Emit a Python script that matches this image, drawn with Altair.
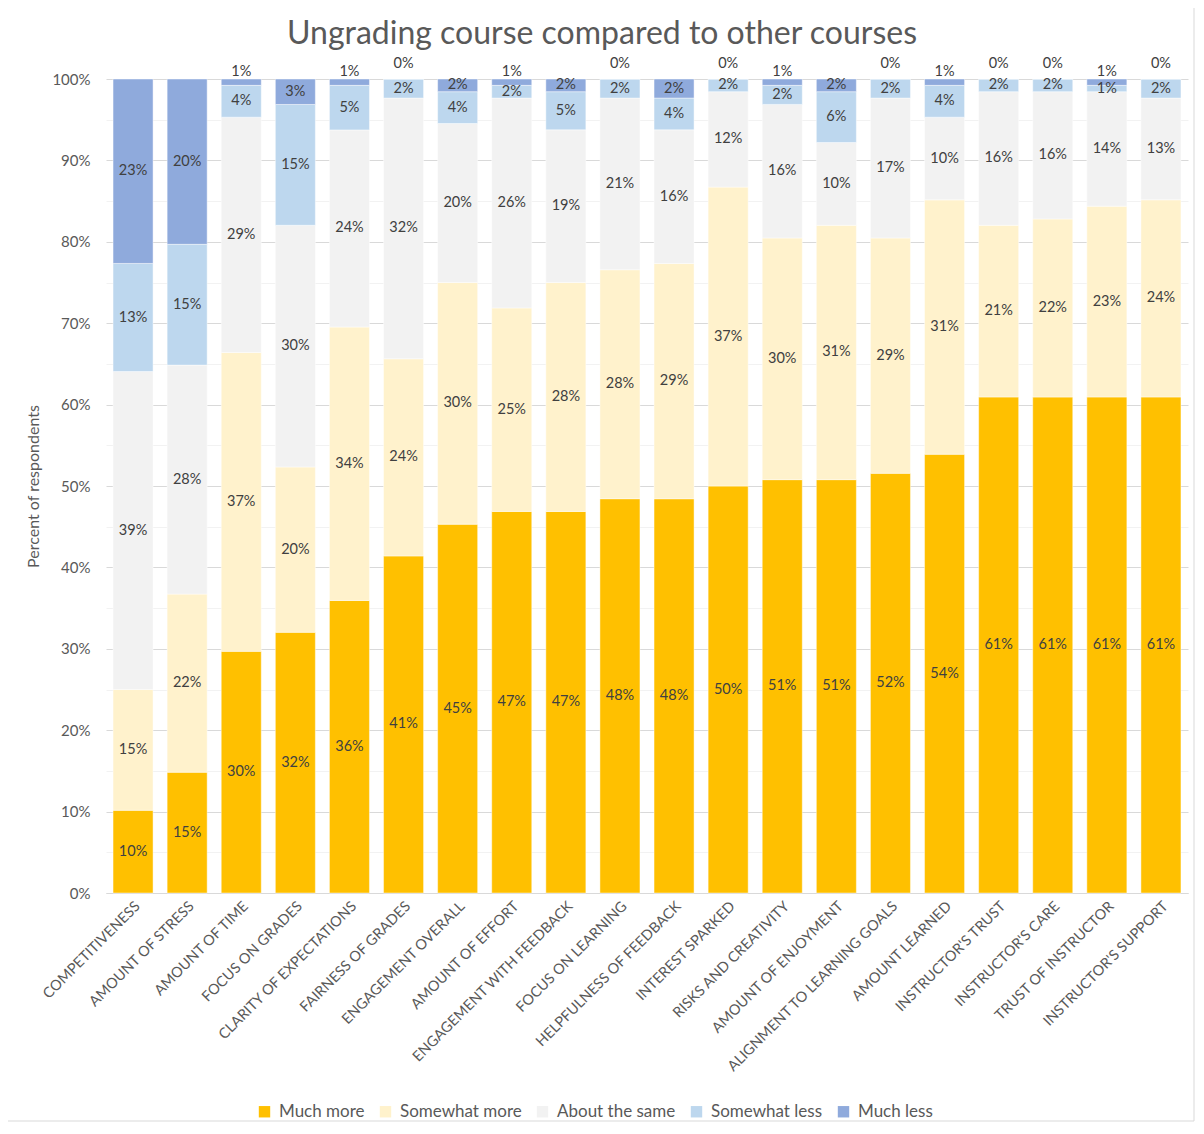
import altair as alt
import pandas as pd

categories = [
    "COMPETITIVENESS", "AMOUNT OF STRESS", "AMOUNT OF TIME", "FOCUS ON GRADES",
    "CLARITY OF EXPECTATIONS", "FAIRNESS OF GRADES", "ENGAGEMENT OVERALL",
    "AMOUNT OF EFFORT", "ENGAGEMENT WITH FEEDBACK", "FOCUS ON LEARNING",
    "HELPFULNESS OF FEEDBACK", "INTEREST SPARKED", "RISKS AND CREATIVITY",
    "AMOUNT OF ENJOYMENT", "ALIGNMENT TO LEARNING GOALS", "AMOUNT LEARNED",
    "INSTRUCTOR'S TRUST", "INSTRUCTOR'S CARE", "TRUST OF INSTRUCTOR",
    "INSTRUCTOR'S SUPPORT",
]
series = ["Much more", "Somewhat more", "About the same", "Somewhat less", "Much less"]
colors = ["#FFC000", "#FFF2CC", "#F2F2F2", "#BDD7EE", "#8FAADC"]
title_text = "Ungrading course compared to other courses"

much_more = [10.16, 14.84, 29.69, 32.03, 35.94, 41.41, 45.31, 46.88, 46.88, 48.44,
             48.44, 50.00, 50.78, 50.78, 51.56, 53.91, 60.94, 60.94, 60.94, 60.94]
somewhat_more = [14.84, 21.88, 36.72, 20.31, 33.59, 24.22, 29.69, 25.00, 28.13, 28.13,
                 28.91, 36.72, 29.69, 31.25, 28.91, 31.25, 21.09, 21.88, 23.44, 24.22]
about_same = [39.06, 28.13, 28.91, 29.69, 24.22, 32.03, 19.53, 25.78, 18.75, 21.09,
              16.41, 11.72, 16.41, 10.16, 17.19, 10.16, 16.41, 15.63, 14.06, 12.50]
somewhat_less = [13.28, 14.84, 3.91, 14.84, 5.47, 2.34, 3.91, 1.56, 4.69, 2.34,
                 3.91, 1.56, 2.34, 6.25, 2.34, 3.91, 1.56, 1.56, 0.78, 2.34]
much_less = [22.66, 20.31, 0.78, 3.13, 0.78, 0.00, 1.56, 0.78, 1.56, 0.00,
             2.34, 0.00, 0.78, 1.56, 0.00, 0.78, 0.00, 0.00, 0.78, 0.00]

FONT = "Lato"
TXT = "#595959"

rows = []
for i, cat in enumerate(categories):
    vals = [much_more[i], somewhat_more[i], about_same[i], somewhat_less[i], much_less[i]]
    total = sum(vals)
    base = 0.0
    for k, (s, v) in enumerate(zip(series, vals)):
        v_n = v * 100.0 / total
        y0, y1 = base, base + v_n
        lab = int(v + 0.5)
        mid = (y0 + y1) / 2
        if s == "Much less" and lab <= 1:
            mid = 101.9 if lab == 0 else 100.9
        rows.append(dict(cat=cat, series=s, order=k, y0=y0, y1=y1, ymid=mid,
                         label=f"{lab}%"))
        base = y1
df = pd.DataFrame(rows)

x_enc = alt.X("cat:N", sort=categories,
              scale=alt.Scale(paddingInner=0.26, paddingOuter=0.13),
              axis=alt.Axis(title=None, labelAngle=-45, labelFontSize=14.5,
                            labelColor=TXT, labelFont=FONT, domainColor="#D9D9D9",
                            ticks=False, labelPadding=6, labelLimit=400))

y_axis = alt.Axis(
    title="Percent of respondents", titleFont=FONT, titleFontSize=16,
    titleFontWeight="normal", titleColor=TXT, titlePadding=10,
    values=list(range(0, 101, 5)),
    labelExpr="datum.value % 10 === 0 ? datum.value + '%' : ''",
    labelFont=FONT, labelFontSize=15, labelColor=TXT, labelPadding=16,
    domain=False, ticks=False,
    gridColor=alt.condition("datum.value % 10 !== 0", alt.value("#F2F2F2"), alt.value("#D9D9D9")),
)

bars = alt.Chart(df).mark_bar(stroke="white", strokeOpacity=0.45, strokeWidth=1).encode(
    x=x_enc,
    y=alt.Y("y0:Q", scale=alt.Scale(domain=[0, 100], nice=False), axis=y_axis),
    y2="y1:Q",
    color=alt.Color("series:N", sort=series,
                    scale=alt.Scale(domain=series, range=colors),
                    legend=alt.Legend(title=None, orient="none", legendX=150, legendY=1024,
                                      direction="horizontal", symbolType="square",
                                      symbolSize=130, symbolStrokeWidth=0,
                                      labelFont=FONT, labelFontSize=17, labelColor=TXT,
                                      columnPadding=12, labelOffset=6)),
    order=alt.Order("order:Q"),
)

labels = alt.Chart(df).mark_text(font=FONT, fontSize=14.5, color="#404040",
                                 baseline="middle").encode(
    x=alt.X("cat:N", sort=categories),
    y=alt.Y("ymid:Q"),
    text="label:N",
)

title = alt.Chart(pd.DataFrame({"t": [title_text]})).mark_text(
    font=FONT, fontSize=32, color=TXT, baseline="alphabetic", align="center").encode(
    x=alt.value(496), y=alt.value(-35), text="t:N")

frame = alt.Chart(pd.DataFrame({"a": [0]})).mark_rect(
    fillOpacity=0, stroke="#D9D9D9", strokeWidth=1).encode(
    x=alt.value(-102), x2=alt.value(1088), y=alt.value(-73), y2=alt.value(1042))

chart = alt.layer(frame, bars, labels, title).properties(
    width=1082, height=814,
    autosize=alt.AutoSizeParams(type="none"),
    padding={"left": 98, "top": 71, "right": 8, "bottom": 230},
).configure_view(stroke=None)

chart.save("out.html", embed_options={"renderer": "svg", "actions": False})
